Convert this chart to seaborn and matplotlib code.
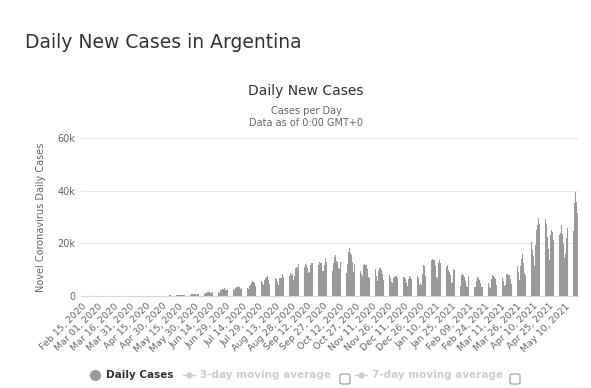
import pandas as pd
import seaborn as sns
import matplotlib.pyplot as plt
from matplotlib.lines import Line2D
from matplotlib.patches import FancyBboxPatch

# daily new cases (Feb 15, 2020 - May 21, 2021)
feb_2020 = [0] * 15
mar_2020 = [0, 0, 1, 0, 1, 6, 1, 3, 5, 2, 2, 12, 3, 11, 11, 9, 14, 14, 18, 31, 30, 67, 35, 36, 86, 115, 101, 55, 75, 66, 146]
apr_2020 = [88, 132, 98, 84, 113, 111, 83, 116, 86, 88, 167, 66, 98, 110, 143, 140, 84, 94, 44, 112, 97, 143, 86, 111, 172, 123, 111, 92, 143, 109]
may_2020 = [102, 113, 112, 102, 165, 163, 195, 240, 229, 111, 228, 245, 316, 255, 345, 307, 224, 304, 263, 474, 436, 723, 718, 704, 552, 535, 795, 703, 647, 795, 601]
jun_2020 = [564, 904, 949, 929, 840, 1082, 1000, 893, 979, 1226, 1386, 1391, 1531, 1282, 1208, 1374, 1393, 1958, 1634, 2060, 1581, 1272, 2146, 2285, 2606, 2635, 2886, 2189, 2262, 2146]
jul_2020 = [2667, 2744, 2845, 2590, 2632, 2439, 2979, 3604, 3428, 3663, 3449, 2657, 2973, 3099, 3645, 4250, 4518, 3223, 2760, 3937, 4190, 4890, 5782, 5493, 4784, 3939, 4241, 5726, 6377, 5929, 5641]
aug_2020 = [4824, 4192, 5939, 6792, 7147, 7513, 6134, 4688, 4967, 6663, 7043, 7498, 6693, 6365, 5241, 4231, 6840, 6842, 6693, 8225, 7187, 6127, 4887, 6352, 8713, 7498, 8771, 8159, 8362, 6208, 7438]
sep_2020 = [10504, 10933, 10550, 12026, 10463, 8771, 7498, 9946, 10874, 12259, 11905, 10776, 8839, 9056, 11674, 12701, 12589, 12896, 9974, 8431, 10677, 11945, 12969, 12625, 12582, 9509, 9609, 11807, 14392, 13041]
oct_2020 = [13267, 13477, 12555, 10301, 9545, 12342, 14740, 15454, 13424, 13064, 10511, 10199, 12800, 16342, 15658, 12886, 12605, 8876, 12145, 16546, 18326, 16327, 15718, 12982, 9253, 11968, 14828, 15362, 15269, 12867, 9379]
nov_2020 = [8317, 7487, 11805, 12157, 11648, 11745, 10223, 7345, 6862, 10907, 11859, 11462, 11095, 10290, 7479, 5875, 9506, 10794, 10689, 9905, 8478, 6255, 5902, 9009, 8601, 8896, 7846, 6938, 5305, 4941]
dec_2020 = [6658, 7326, 7643, 7522, 6815, 5062, 3573, 5936, 6584, 7269, 7141, 6638, 5033, 3728, 6347, 7477, 7057, 6614, 6194, 4553, 3849, 6981, 7493, 6749, 4361, 5039, 4181, 8361, 11765, 11395, 7467]
jan_2021 = [4080, 5240, 6663, 4934, 13790, 13953, 13835, 13835, 11311, 7264, 6981, 12625, 13614, 12674, 11899, 9925, 6505, 5806, 11034, 11663, 9920, 9123, 8121, 5079, 5197, 10397, 9823, 8587, 7895, 6124, 4950]
feb_2021 = [3888, 7864, 8307, 8156, 7210, 5669, 3809, 3569, 7440, 7633, 6796, 6307, 4719, 3283, 3289, 5587, 7208, 6710, 6209, 4962, 3346, 3587, 6899, 7156, 6683, 6002, 5091, 3520]
mar_2021 = [3170, 6436, 7833, 7748, 7099, 6279, 4235, 3713, 7493, 8011, 7720, 6866, 5584, 3941, 4015, 8312, 8456, 8050, 7829, 6341, 4545, 6003, 11287, 12936, 12416, 11262, 9128, 5937, 11551, 14014, 16056]
apr_2021 = [12516, 8900, 7886, 10086, 20870, 22039, 24130, 20661, 17542, 15291, 11483, 19325, 25157, 27001, 29472, 27216, 21152, 13668, 25932, 26058, 29145, 27216, 22475, 17812, 13667, 23187, 24999, 24130, 21392, 16842]
may_2021 = [13914, 10691, 19853, 23227, 23853, 27001, 23542, 19620, 14476, 15817, 22138, 25736, 27364, 24917, 20365, 13640, 24701, 35468, 39652, 35884, 31538]

tick_labels = ["Feb 15, 2020", "Mar 01, 2020", "Mar 16, 2020", "Mar 31, 2020", "Apr 15, 2020",
               "Apr 30, 2020", "May 15, 2020", "May 30, 2020", "Jun 14, 2020", "Jun 29, 2020",
               "Jul 14, 2020", "Jul 29, 2020", "Aug 13, 2020", "Aug 28, 2020", "Sep 12, 2020",
               "Sep 27, 2020", "Oct 12, 2020", "Oct 27, 2020", "Nov 11, 2020", "Nov 26, 2020",
               "Dec 11, 2020", "Dec 26, 2020", "Jan 10, 2021", "Jan 25, 2021", "Feb 09, 2021",
               "Feb 24, 2021", "Mar 11, 2021", "Mar 26, 2021", "Apr 10, 2021", "Apr 25, 2021",
               "May 10, 2021"]

cases = (feb_2020 + mar_2020 + apr_2020 + may_2020 + jun_2020 + jul_2020 + aug_2020 + sep_2020
         + oct_2020 + nov_2020 + dec_2020 + jan_2021 + feb_2021 + mar_2021 + apr_2021 + may_2021)
df = pd.DataFrame({"day": range(len(cases)), "cases": cases})

sns.set_theme(style="white")
plt.rcParams["font.family"] = ["DejaVu Sans"]

fig = plt.figure(figsize=(5.91, 3.88), dpi=100)
ax = fig.add_axes([81 / 591, 1 - 296 / 388, (578 - 81) / 591, (296 - 138) / 388])

sns.barplot(data=df, x="day", y="cases", color="#999999", saturation=1, width=0.65,
            linewidth=0, edgecolor="none", ax=ax)

ax.set_ylim(0, 60000)
ax.set_yticks([0, 20000, 40000, 60000])
ax.set_yticklabels(["0", "20k", "40k", "60k"], fontsize=7, color="#666666")
ax.yaxis.grid(True, color="#e6e6e6", lw=0.8)
ax.set_axisbelow(True)
ax.set_xticks(range(0, 15 * len(tick_labels), 15))
ax.set_xticklabels(tick_labels, rotation=45, ha="right", rotation_mode="anchor",
                   fontsize=6.8, color="#666666")
ax.tick_params(axis="both", length=0, pad=4)
ax.set_xlabel("")
ax.set_ylabel("Novel Coronavirus Daily Cases", fontsize=7, color="#666666", labelpad=8)
for s in ["top", "right", "left"]:
    ax.spines[s].set_visible(False)
ax.spines["bottom"].set_color("#ccd6eb")
ax.spines["bottom"].set_linewidth(0.8)

# titles
fig.text(25 / 591, 1 - 42 / 388, "Daily New Cases in Argentina", fontsize=13.5,
         color="#333333", va="center", ha="left")
fig.text(306 / 591, 1 - 91 / 388, "Daily New Cases", fontsize=10, color="#333333",
         ha="center", va="center")
fig.text(306 / 591, 1 - 111 / 388, "Cases per Day", fontsize=7, color="#666666",
         ha="center", va="center")
fig.text(306 / 591, 1 - 123 / 388, "Data as of 0:00 GMT+0", fontsize=7, color="#666666",
         ha="center", va="center")

# legend
ly = 1 - 375 / 388
fig.add_artist(Line2D([95 / 591], [ly], marker="o", markersize=7, color="#999999",
                      transform=fig.transFigure))
fig.text(106 / 591, ly, "Daily Cases", fontsize=7.5, fontweight="bold", color="#333333",
         va="center")
for x0, label in [(183, "3-day moving average"), (355, "7-day moving average")]:
    fig.add_artist(Line2D([x0 / 591, (x0 + 12) / 591], [ly, ly], color="#cccccc", lw=1,
                          transform=fig.transFigure))
    fig.add_artist(Line2D([(x0 + 6) / 591], [ly], marker="o", markersize=3.5,
                          color="#cccccc", transform=fig.transFigure))
    fig.text((x0 + 17) / 591, ly, label, fontsize=7.5, fontweight="bold",
             color="#cccccc", va="center")
for bx in [340, 510]:
    fig.add_artist(FancyBboxPatch((bx / 591, 1 - 384 / 388), 10 / 591, 10 / 388,
                                  boxstyle="round,pad=0,rounding_size=0.004",
                                  fc="white", ec="#999999", lw=0.8,
                                  transform=fig.transFigure))

plt.savefig("out.png", dpi=100)
